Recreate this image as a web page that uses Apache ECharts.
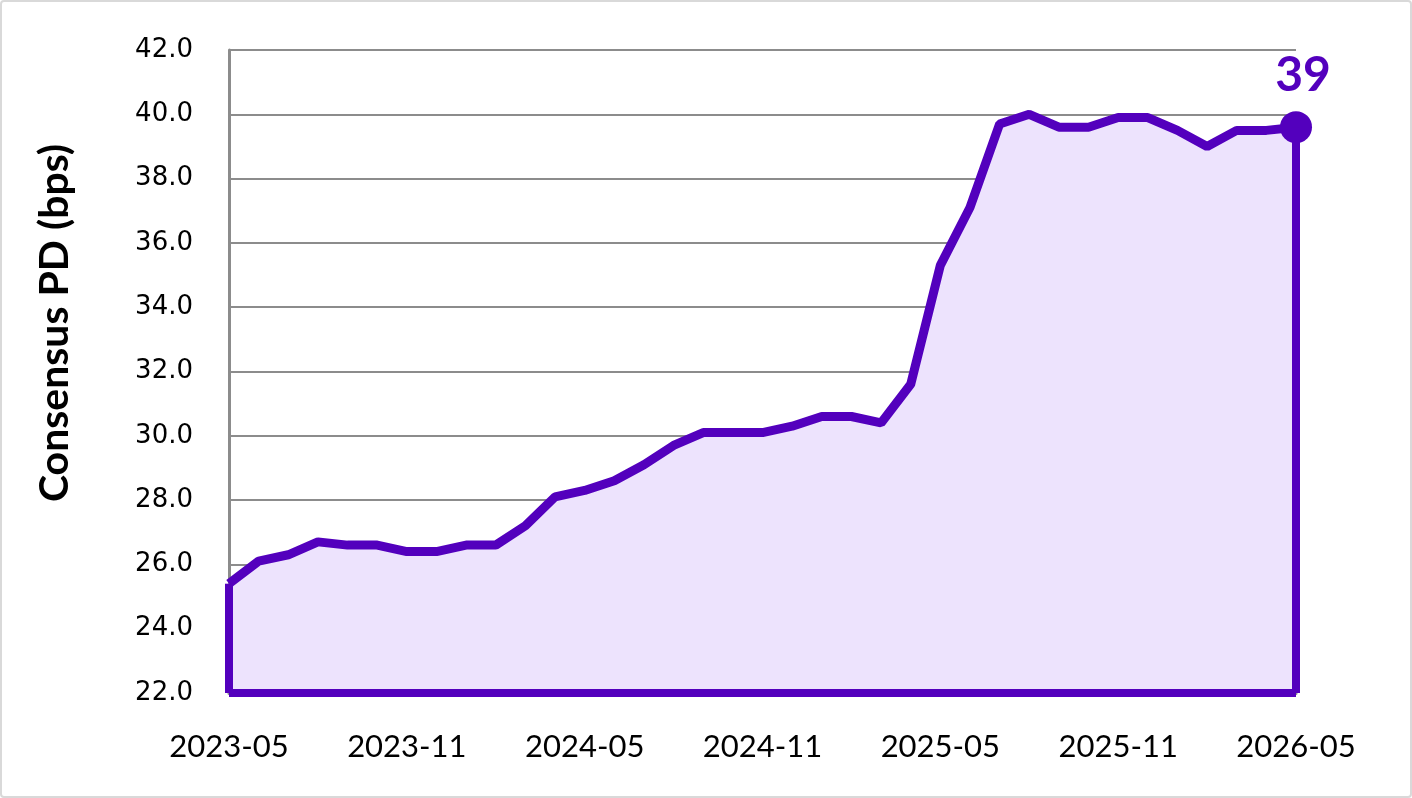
<!DOCTYPE html>
<html>
<head>
<meta charset="utf-8">
<script src="https://cdn.jsdelivr.net/npm/echarts@6/dist/echarts.min.js"></script>
<style>
	html, body { margin: 0; padding: 0; background: #fff; }
	#main { width: 1412px; height: 798px; box-sizing: border-box; border: 2px solid #d9d9d9; border-radius: 4px; }
</style>
</head>
<body>
<div id="main"></div>
<script>
// monthly points, 2023-05 .. 2026-05
var months = [
	'2023-05', '2023-06', '2023-07', '2023-08', '2023-09', '2023-10', '2023-11', '2023-12',
	'2024-01', '2024-02', '2024-03', '2024-04', '2024-05', '2024-06', '2024-07', '2024-08',
	'2024-09', '2024-10', '2024-11', '2024-12', '2025-01', '2025-02', '2025-03', '2025-04',
	'2025-05', '2025-06', '2025-07', '2025-08', '2025-09', '2025-10', '2025-11', '2025-12',
	'2026-01', '2026-02', '2026-03', '2026-04', '2026-05'
];
var consensusPd = [
	25.4, 26.1, 26.3, 26.7, 26.6, 26.6, 26.4, 26.4,
	26.6, 26.6, 27.2, 28.1, 28.3, 28.6, 29.1, 29.7,
	30.1, 30.1, 30.1, 30.3, 30.6, 30.6, 30.4, 31.6,
	35.3, 37.1, 39.7, 40.0, 39.6, 39.6, 39.9, 39.9,
	39.5, 39.0, 39.5, 39.5, 39.6
];
var lastLabel = '39';
var yMin = 22, yMax = 42, yStep = 2;

var purple = '#5300bd';
var font = 'Lato, "Open Sans", sans-serif';

var seriesData = [];
for (var i = 0; i < consensusPd.length; i++) {
	if (i == consensusPd.length - 1) {
		seriesData.push({
			value: consensusPd[i],
			symbol: 'circle',
			symbolSize: 32,
			label: {
				show: true,
				position: 'top',
				distance: 12,
				offset: [7, 0],
				formatter: lastLabel,
				color: purple,
				fontFamily: font,
				fontWeight: 'bold',
				fontSize: 48
			}
		});
	} else {
		seriesData.push(consensusPd[i]);
	}
}

var first = months[0];
var last = months[months.length - 1];

var myChart = echarts.init(document.getElementById('main'));
var option = {
	animation: false,
	grid: {
		left: 227,
		right: 114,
		top: 48,
		bottom: 103
	},
	xAxis: {
		type: 'category',
		boundaryGap: false,
		data: months,
		axisLine: { lineStyle: { color: '#8c8c8c', width: 3 } },
		axisTick: { show: false },
		axisLabel: {
			interval: 5,
			margin: 38,
			color: '#000',
			fontFamily: font,
			fontSize: 31
		}
	},
	yAxis: {
		type: 'value',
		min: yMin,
		max: yMax,
		interval: yStep,
		axisLine: { show: true, lineStyle: { color: '#8c8c8c', width: 3 } },
		axisTick: { show: false },
		splitLine: { lineStyle: { color: '#8c8c8c', width: 2 } },
		axisLabel: {
			margin: 36,
			color: '#000',
			fontFamily: '"DejaVu Sans", Verdana, sans-serif',
			fontSize: 26,
			formatter: function(v) { return v.toFixed(1); }
		}
	},
	graphic: [{
		type: 'text',
		x: 53,
		y: 321,
		rotation: Math.PI / 2,
		style: {
			text: 'Consensus PD (bps)',
			textAlign: 'center',
			textVerticalAlign: 'middle',
			font: 'bold 41px ' + font,
			fill: '#000'
		}
	}],
	series: [{
		name: 'Consensus PD',
		type: 'line',
		data: seriesData,
		symbol: 'none',
		lineStyle: { color: purple, width: 9 },
		itemStyle: { color: purple },
		areaStyle: { color: '#ede3fd', opacity: 1 },
		markLine: {
			silent: true,
			symbol: 'none',
			label: { show: false },
			lineStyle: { color: purple, width: 8, type: 'solid' },
			data: [
				[{ coord: [first, yMin] }, { coord: [first, consensusPd[0]] }],
				[{ coord: [last, yMin] }, { coord: [last, consensusPd[consensusPd.length - 1]] }],
				[{ coord: [first, yMin] }, { coord: [last, yMin] }]
			]
		}
	}]
};
myChart.setOption(option);
</script>
</body>
</html>
